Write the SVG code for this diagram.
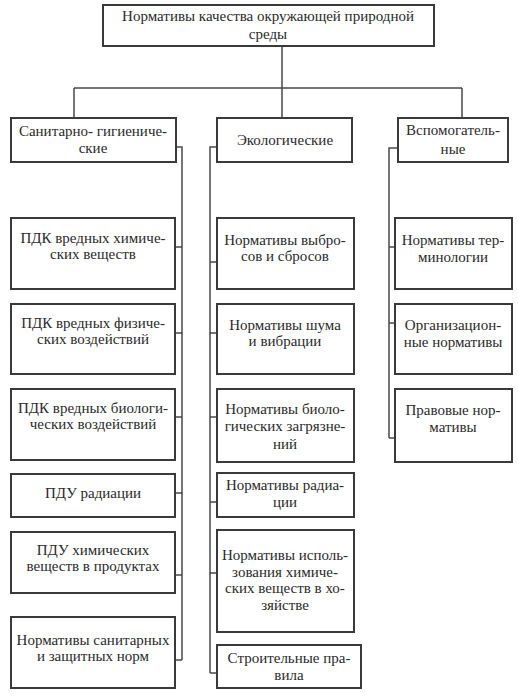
<svg xmlns="http://www.w3.org/2000/svg" width="518" height="697" viewBox="0 0 518 697">
<style>
.box{fill:#fff;stroke:#3a3a3a;stroke-width:2}
.ln{fill:none;stroke:#4a4a4a;stroke-width:1.5}
.t text{font-family:'Liberation Serif','DejaVu Serif',serif;font-size:15px;fill:#2a2a2a;text-anchor:middle}
</style>
<rect width="518" height="697" fill="#fff"/>
<g id="connectors">
<path class="ln" d="M282,46 V88 M74,88 H462 M74,88 V118 M282,88 V118 M462,88 V118"/>
<path class="ln" d="M176,147 H182 V660 M175,247 H182 M175,333 H182 M175,417 H182 M175,493 H182 M175,575 H182 M175,660 H182"/>
<path class="ln" d="M217,147 H210 V673 M217,262 H210 M217,333 H210 M217,417 H210 M217,502 H210 M217,573 H210 M217,673 H210"/>
<path class="ln" d="M398,148 H389 V438 M395,247 H389 M395,323 H389 M395,438 H389"/>
</g>
<g class="t" font-family="Liberation Serif, serif">
<g id="root"><rect class="box" x="103" y="5" width="331" height="41"/><text x="268" y="21">Нормативы качества окружающей природной</text><text x="268" y="39">среды</text></g>
<g id="sanit"><rect class="box" x="11" y="118" width="165" height="44"/><text x="93" y="136">Санитарно- гигиениче-</text><text x="93" y="153">ские</text></g>
<g id="ekol"><rect class="box" x="217" y="118" width="135" height="44"/><text x="285" y="145">Экологические</text></g>
<g id="vspom"><rect class="box" x="398" y="118" width="110" height="44"/><text x="453" y="135">Вспомогатель-</text><text x="453" y="154">ные</text></g>
<g id="l1"><rect class="box" x="11" y="218" width="164" height="71"/><text x="93" y="243">ПДК вредных химиче-</text><text x="93" y="259">ских веществ</text></g>
<g id="l2"><rect class="box" x="11" y="304" width="164" height="70"/><text x="93" y="328">ПДК вредных физиче-</text><text x="93" y="344">ских воздействий</text></g>
<g id="l3"><rect class="box" x="11" y="389" width="164" height="71"/><text x="93" y="413">ПДК вредных биологи-</text><text x="93" y="429">ческих воздействий</text></g>
<g id="l4"><rect class="box" x="11" y="474" width="164" height="43"/><text x="93" y="498">ПДУ радиации</text></g>
<g id="l5"><rect class="box" x="11" y="532" width="164" height="61"/><text x="93" y="555">ПДУ химических</text><text x="93" y="571">веществ в продуктах</text></g>
<g id="l6"><rect class="box" x="11" y="617" width="164" height="71"/><text x="93" y="645">Нормативы санитарных</text><text x="93" y="661">и защитных норм</text></g>
<g id="m1"><rect class="box" x="217" y="218" width="137" height="71"/><text x="285" y="245">Нормативы выбро-</text><text x="285" y="261">сов и сбросов</text></g>
<g id="m2"><rect class="box" x="217" y="304" width="137" height="70"/><text x="285" y="330">Нормативы шума</text><text x="285" y="346">и вибрации</text></g>
<g id="m3"><rect class="box" x="217" y="389" width="137" height="73"/><text x="285" y="414">Нормативы биоло-</text><text x="285" y="431">гических загрязне-</text><text x="285" y="449">ний</text></g>
<g id="m4"><rect class="box" x="217" y="473" width="137" height="44"/><text x="285" y="490">Нормативы радиа-</text><text x="285" y="507">ции</text></g>
<g id="m5"><rect class="box" x="217" y="530" width="137" height="102"/><text x="285" y="560">Нормативы исполь-</text><text x="285" y="577">зования химиче-</text><text x="285" y="593">ских веществ в хо-</text><text x="285" y="610">зяйстве</text></g>
<g id="m6"><rect class="box" x="217" y="645" width="144" height="43"/><text x="289" y="663">Строительные пра-</text><text x="289" y="680">вила</text></g>
<g id="r1"><rect class="box" x="395" y="218" width="117" height="71"/><text x="453" y="245">Нормативы тер-</text><text x="453" y="262">минологии</text></g>
<g id="r2"><rect class="box" x="395" y="304" width="117" height="70"/><text x="453" y="330">Организацион-</text><text x="453" y="347">ные нормативы</text></g>
<g id="r3"><rect class="box" x="395" y="389" width="117" height="73"/><text x="453" y="415">Правовые нор-</text><text x="453" y="432">мативы</text></g>
</g>
</svg>
